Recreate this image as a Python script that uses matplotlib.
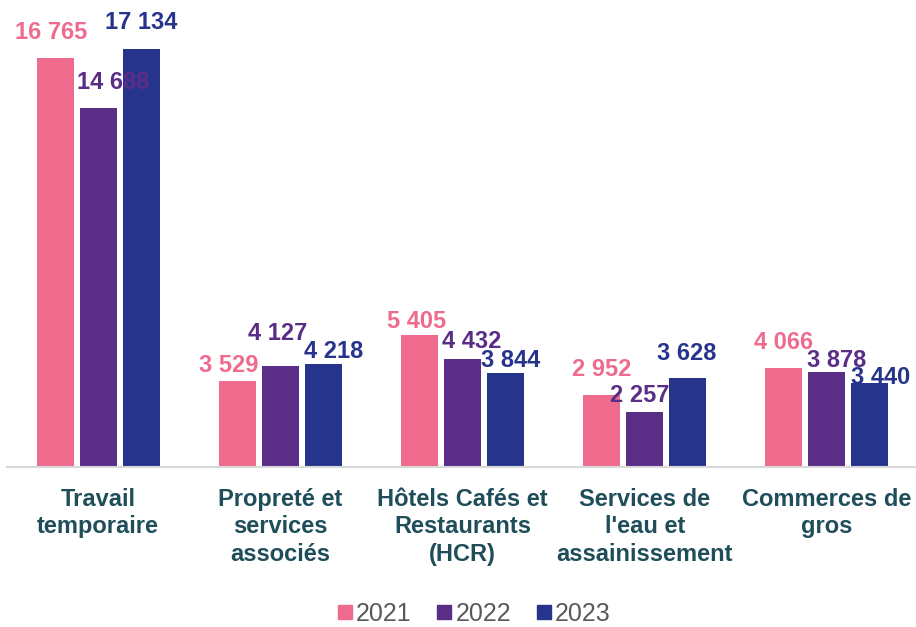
import matplotlib
matplotlib.use("Agg")
import matplotlib.pyplot as plt
from matplotlib.lines import Line2D
import numpy as np

categories = ["Travail\ntemporaire", "Propreté et\nservices\nassociés",
              "Hôtels Cafés et\nRestaurants\n(HCR)", "Services de\nl'eau et\nassainissement",
              "Commerces de\ngros"]
years = ["2021", "2022", "2023"]
v2021 = [16765, 3529, 5405, 2952, 4066]
v2022 = [14688, 4127, 4432, 2257, 3878]
v2023 = [17134, 4218, 3844, 3628, 3440]
series = [v2021, v2022, v2023]
colors = ["#EE6B8E", "#5A2D87", "#27348B"]

# label offsets in pixels (dx, dy) relative to bar top centre, per series per category
label_dx = [[-4, -9, -3, 0, 0], [15, -3, 9, -5, 10], [0, 10, 5, -1, 11]]
label_dy = [[25, 15, 13, 25, 25], [26, 33, 17, 16, 12], [26, 12, 13, 25, 5]]

def fmt(v):
    return f"{v:,}".replace(",", " ")

plt.rcParams['font.family'] = ['Liberation Sans', 'DejaVu Sans']
fig = plt.figure(figsize=(9.16, 6.27), dpi=100)
ax = fig.add_axes([7/916, 160/627, 911/916, 439.6/627])

x = np.arange(len(categories))
bw = 0.203
step = 0.236
for i, (vals, c) in enumerate(zip(series, colors)):
    xs = x + (i - 1) * step
    ax.bar(xs, vals, width=bw, color=c, zorder=2)
    for j, (xx, v) in enumerate(zip(xs, vals)):
        ax.annotate(fmt(v), (xx, v), xytext=(label_dx[i][j], label_dy[i][j]),
                    textcoords='offset pixels', ha='center', va='center',
                    fontsize=17, fontweight='bold', color=c, zorder=3)

ax.set_xlim(-0.5, 4.5)
ax.set_ylim(0, 18000)
ax.set_yticks([])
for s in ['top', 'right', 'left']:
    ax.spines[s].set_visible(False)
ax.spines['bottom'].set_color('#D9D9D9')
ax.spines['bottom'].set_linewidth(1.5)
ax.set_xticks(x)
ax.set_xticklabels(categories, fontsize=17, fontweight='bold', color='#1F4E5A',
                   linespacing=1.25, va='top')
ax.tick_params(axis='x', length=0, pad=15)

handles = [Line2D([], [], marker='s', linestyle='none', markersize=10.5,
                  markerfacecolor=c, markeredgecolor=c) for c in colors]
fig.legend(handles, years, loc='center', bbox_to_anchor=(474/916, 13/627),
           ncol=3, frameon=False, fontsize=18, handlelength=0.6,
           handletextpad=0.15, columnspacing=1.0, labelcolor='#595959')

fig.savefig("out.png", dpi=100)
